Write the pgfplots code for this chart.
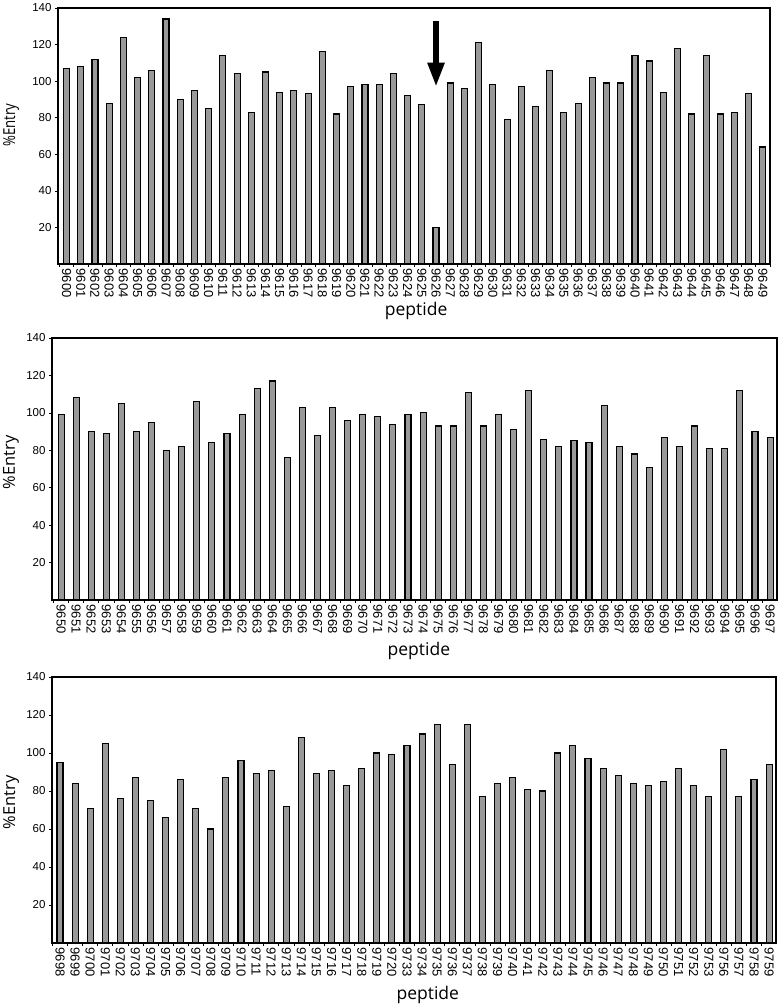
\documentclass[border=0pt]{standalone}
\usepackage{fontspec}
\setmainfont{Liberation Sans}
\newfontfamily\labelfont{Open Sans}
\usepackage{pgfplots}
\usepackage{pgfplotstable}
\pgfplotsset{compat=1.18}
\usetikzlibrary{arrows.meta}
\definecolor{bargray}{RGB}{153,153,153}

\pgfplotstableread{
x lab y
0 9600 107
1 9601 108
2 9602 112
3 9603 88
4 9604 124
5 9605 102
6 9606 106
7 9607 134
8 9608 90
9 9609 95
10 9610 85
11 9611 114
12 9612 104
13 9613 83
14 9614 105
15 9615 94
16 9616 95
17 9617 93
18 9618 116
19 9619 82
20 9620 97
21 9621 98
22 9622 98
23 9623 104
24 9624 92
25 9625 87
26 9626 20
27 9627 99
28 9628 96
29 9629 121
30 9630 98
31 9631 79
32 9632 97
33 9633 86
34 9634 106
35 9635 83
36 9636 88
37 9637 102
38 9638 99
39 9639 99
40 9640 114
41 9641 111
42 9642 94
43 9643 118
44 9644 82
45 9645 114
46 9646 82
47 9647 83
48 9648 93
49 9649 64
}\tA

\pgfplotstableread{
x lab y
0 9650 99
1 9651 108
2 9652 90
3 9653 89
4 9654 105
5 9655 90
6 9656 95
7 9657 80
8 9658 82
9 9659 106
10 9660 84
11 9661 89
12 9662 99
13 9663 113
14 9664 117
15 9665 76
16 9666 103
17 9667 88
18 9668 103
19 9669 96
20 9670 99
21 9671 98
22 9672 94
23 9673 99
24 9674 100
25 9675 93
26 9676 93
27 9677 111
28 9678 93
29 9679 99
30 9680 91
31 9681 112
32 9682 86
33 9683 82
34 9684 85
35 9685 84
36 9686 104
37 9687 82
38 9688 78
39 9689 71
40 9690 87
41 9691 82
42 9692 93
43 9693 81
44 9694 81
45 9695 112
46 9696 90
47 9697 87
}\tB

\pgfplotstableread{
x lab y
0 9698 95
1 9699 84
2 9700 71
3 9701 105
4 9702 76
5 9703 87
6 9704 75
7 9705 66
8 9706 86
9 9707 71
10 9708 60
11 9709 87
12 9710 96
13 9711 89
14 9712 91
15 9713 72
16 9714 108
17 9715 89
18 9716 91
19 9717 83
20 9718 92
21 9719 100
22 9720 99
23 9733 104
24 9734 110
25 9735 115
26 9736 94
27 9737 115
28 9738 77
29 9739 84
30 9740 87
31 9741 81
32 9742 80
33 9743 100
34 9744 104
35 9745 97
36 9746 92
37 9747 88
38 9748 84
39 9749 83
40 9750 85
41 9751 92
42 9752 83
43 9753 77
44 9756 102
45 9757 77
46 9758 86
47 9759 94
}\tC

\pgfplotsset{
  panel/.style={
    scale only axis,
    anchor=south west,
    ymin=0, ymax=140,
    ytick={20,40,60,80,100,120,140},
    /pgf/number format/assume math mode=true,
    yticklabel style={font=\fontsize{11.5}{11.5}\selectfont},
    xtick=data,
    xticklabel style={rotate=-90, anchor=west, font=\fontsize{13}{13}\selectfont, inner sep=1.5pt},
    tick align=outside,
    xtick pos=bottom, ytick pos=left,
    every major x tick/.append style={draw=none},
    minor tick length=3pt,
    major tick length=3pt,
    tick style={black, line width=0.6pt},
    axis line style={line width=2pt},
    ybar, bar width=6pt,
    xlabel={peptide}, ylabel={\%Entry},
    xlabel style={font=\labelfont\fontsize{17.5}{17.5}\selectfont, anchor=center},
    ylabel style={font=\labelfont\fontsize{16.5}{16.5}\selectfont, anchor=center},
  },
  barstyle/.style={fill=bargray, draw=black, line width=1.1pt},
}

\begin{document}
\begin{tikzpicture}
\path[use as bounding box] (0,0) rectangle (782pt,1006pt);

\begin{axis}[panel,
  at={(58pt,742pt)}, width=712pt, height=256pt,
  xmin=-0.6, xmax=49.5,
  minor xtick={-0.5,0.5,...,49.5},
  xticklabels from table={\tA}{lab},
  xlabel style={at={(axis description cs:0.503,-0.184)}},
  ylabel style={at={(axis description cs:-0.066,0.543)}, xscale=0.8},
]
\addplot[barstyle] table[x=x,y=y]{\tA};
\draw[line width=5.5pt, -{Triangle[length=24pt,width=16pt]}] (axis cs:26,133) -- (axis cs:26,97);
\end{axis}

\begin{axis}[panel,
  at={(52pt,406pt)}, width=725pt, height=262pt,
  xmin=-0.6, xmax=47.46,
  minor xtick={-0.5,0.5,...,47.5},
  xticklabels from table={\tB}{lab},
  xlabel style={at={(axis description cs:0.506,-0.195)}},
  ylabel style={at={(axis description cs:-0.0566,0.525)}},
]
\addplot[barstyle] table[x=x,y=y]{\tB};
\end{axis}

\begin{axis}[panel,
  at={(52pt,63pt)}, width=724pt, height=266pt,
  xmin=-0.53, xmax=47.46,
  minor xtick={-0.5,0.5,...,47.5},
  xticklabels from table={\tC}{lab},
  xlabel style={at={(axis description cs:0.519,-0.195)}},
  ylabel style={at={(axis description cs:-0.0566,0.528)}},
]
\addplot[barstyle] table[x=x,y=y]{\tC};
\end{axis}
\end{tikzpicture}
\end{document}
